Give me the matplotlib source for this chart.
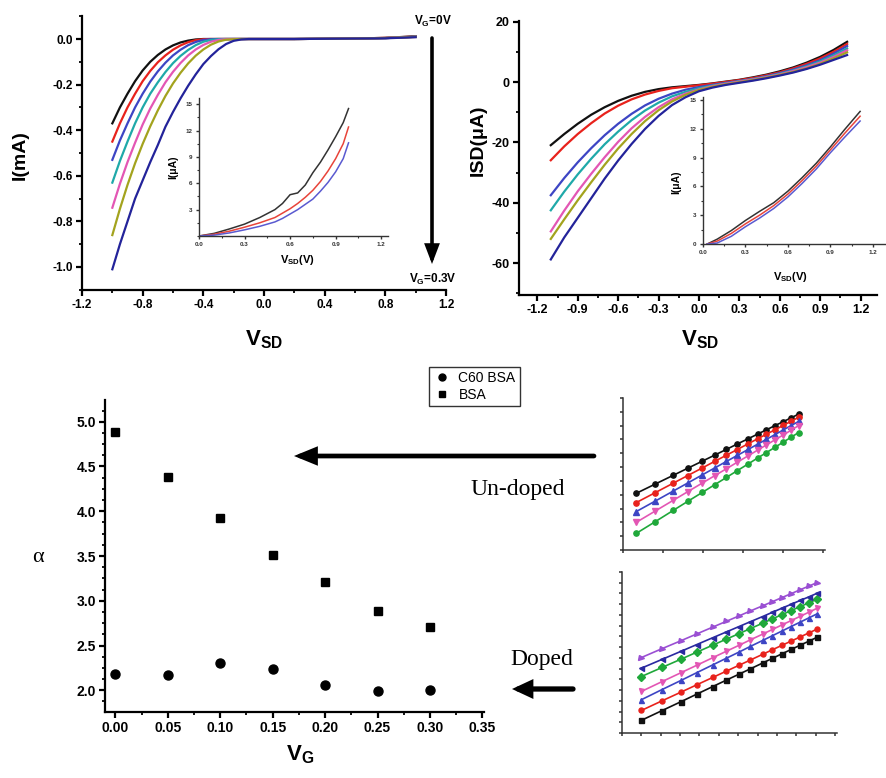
import matplotlib
matplotlib.use("Agg")
import matplotlib.pyplot as plt
from matplotlib.ticker import MultipleLocator, NullFormatter, FormatStrFormatter
from matplotlib.patches import FancyArrowPatch
from matplotlib.lines import Line2D

plt.rcParams["font.family"] = ["Liberation Sans", "DejaVu Sans"]
plt.rcParams["font.weight"] = "bold"
plt.rcParams["axes.unicode_minus"] = False
plt.rcParams["mathtext.fontset"] = "custom"
plt.rcParams["mathtext.bf"] = "Liberation Sans:bold"
plt.rcParams["mathtext.rm"] = "Liberation Sans:bold"
plt.rcParams["mathtext.default"] = "bf"

# ---- panel A: I-V, BSA (mA) ----
A_VSD = [-1.0, -0.95, -0.9, -0.85, -0.8, -0.75, -0.7, -0.65, -0.6, -0.55, -0.5,
         -0.45, -0.4, -0.35, -0.3, -0.25, -0.2, -0.15, -0.1, -0.05, 0.0,
         0.2, 0.4, 0.6, 0.8, 1.0]
A_black = [-0.37, -0.30, -0.24, -0.185, -0.138, -0.10, -0.07, -0.046, -0.028, -0.015, -0.007,
           -0.002, 0, 0, 0, 0, 0, 0, 0, 0, 0, 0.0, 0.001, 0.002, 0.005, 0.012]
A_red = [-0.45, -0.37, -0.30, -0.24, -0.185, -0.14, -0.102, -0.072, -0.047, -0.028, -0.014,
         -0.005, -0.001, 0, 0, 0, 0, 0, 0, 0, 0, 0.0, 0.001, 0.002, 0.005, 0.011]
A_blue = [-0.53, -0.445, -0.37, -0.30, -0.24, -0.187, -0.142, -0.104, -0.072, -0.047, -0.027,
          -0.013, -0.004, -0.001, 0, 0, 0, 0, 0, 0, 0, 0.0, 0.001, 0.002, 0.004, 0.010]
A_teal = [-0.63, -0.535, -0.45, -0.37, -0.30, -0.24, -0.19, -0.145, -0.106, -0.074, -0.048,
          -0.027, -0.012, -0.004, -0.001, 0, 0, 0, 0, 0, 0, 0.0, 0.001, 0.002, 0.004, 0.010]
A_magenta = [-0.74, -0.635, -0.54, -0.455, -0.375, -0.305, -0.245, -0.19, -0.144, -0.105, -0.072,
             -0.046, -0.026, -0.012, -0.004, -0.001, 0, 0, 0, 0, 0, 0.0, 0.001, 0.002, 0.004, 0.009]
A_olive = [-0.86, -0.745, -0.64, -0.545, -0.46, -0.383, -0.313, -0.25, -0.195, -0.148, -0.107,
           -0.073, -0.046, -0.025, -0.011, -0.003, -0.001, 0, 0, 0, 0, 0.0, 0.001, 0.002, 0.004, 0.009]
A_navy = [-1.01, -0.90, -0.80, -0.70, -0.62, -0.54, -0.465, -0.385, -0.32, -0.26, -0.205,
          -0.155, -0.11, -0.075, -0.045, -0.022, -0.008, -0.002, 0, 0, 0, 0.0, 0.001, 0.002, 0.003, 0.008]

# inset of panel A (uA)
IA_VSD = [0.0, 0.1, 0.2, 0.3, 0.4, 0.5, 0.55, 0.6, 0.65, 0.7, 0.75, 0.8, 0.85, 0.9, 0.95, 0.985]
IA_black = [0, 0.3, 0.8, 1.35, 2.1, 3.0, 3.7, 4.7, 4.9, 5.8, 7.2, 8.4, 9.8, 11.3, 12.9, 14.5]
IA_red = [0, 0.2, 0.55, 1.0, 1.5, 2.1, 2.6, 3.1, 3.7, 4.4, 5.2, 6.2, 7.4, 8.8, 10.5, 12.4]
IA_blue = [0, 0.1, 0.35, 0.7, 1.1, 1.6, 2.0, 2.5, 3.0, 3.6, 4.2, 5.1, 6.1, 7.3, 8.8, 10.6]

# ---- panel B: I-V, C60 BSA (uA) ----
B_VSD = [-1.1, -1.0, -0.9, -0.8, -0.7, -0.6, -0.5, -0.4, -0.3, -0.2, -0.1, 0.0,
         0.1, 0.2, 0.3, 0.4, 0.5, 0.6, 0.7, 0.8, 0.9, 1.0, 1.1]
B_black = [-20.9, -17.2, -13.8, -10.8, -8.3, -6.2, -4.5, -3.2, -2.3, -1.7, -1.3, -0.9,
           -0.4, 0.2, 0.8, 1.6, 2.5, 3.6, 4.9, 6.5, 8.4, 10.7, 13.4]
B_red = [-25.9, -21.3, -17.2, -13.6, -10.4, -7.8, -5.7, -4.1, -2.9, -2.0, -1.5, -1.0,
         -0.5, 0.1, 0.7, 1.4, 2.3, 3.3, 4.6, 6.1, 7.9, 10.1, 12.7]
B_blue = [-37.5, -31.8, -26.6, -21.9, -17.6, -13.8, -10.5, -7.7, -5.5, -3.8, -2.5, -1.6,
          -0.9, -0.2, 0.4, 1.1, 2.0, 3.0, 4.2, 5.6, 7.3, 9.5, 12.0]
B_teal = [-42.5, -36.3, -30.6, -25.4, -20.6, -16.4, -12.6, -9.4, -6.8, -4.7, -3.2, -2.0,
          -1.1, -0.4, 0.3, 1.0, 1.8, 2.8, 3.9, 5.3, 6.9, 8.9, 11.2]
B_magenta = [-49.5, -42.6, -36.2, -30.4, -24.9, -19.8, -15.3, -11.5, -8.3, -5.7, -3.8, -2.4,
             -1.3, -0.5, 0.2, 0.9, 1.7, 2.6, 3.7, 5.0, 6.5, 8.4, 10.6]
B_olive = [-52.0, -45.5, -39.2, -33.2, -27.4, -22.0, -17.2, -12.9, -9.3, -6.4, -4.2, -2.6,
           -1.5, -0.7, 0.0, 0.7, 1.5, 2.4, 3.4, 4.6, 6.1, 7.9, 9.9]
B_navy = [-58.8, -51.5, -45.0, -38.5, -32.0, -26.0, -20.5, -15.5, -11.2, -7.6, -5.0, -3.0,
          -1.8, -0.9, -0.2, 0.5, 1.3, 2.2, 3.2, 4.4, 5.8, 7.4, 9.0]

# inset of panel B (uA)
IB_VSD = [0.03, 0.1, 0.2, 0.3, 0.4, 0.5, 0.6, 0.7, 0.8, 0.9, 1.0, 1.11]
IB_black = [0, 0.5, 1.4, 2.45, 3.4, 4.3, 5.5, 6.9, 8.4, 10.1, 11.9, 13.8]
IB_red = [0, 0.3, 1.1, 2.1, 3.0, 4.0, 5.2, 6.6, 8.1, 9.8, 11.5, 13.3]
IB_blue = [0, 0.1, 0.8, 1.8, 2.7, 3.7, 4.9, 6.3, 7.8, 9.5, 11.1, 12.8]

# ---- panel C: alpha vs VG ----
VG = [0.0, 0.05, 0.10, 0.15, 0.20, 0.25, 0.30]
alpha_c60 = [2.18, 2.17, 2.30, 2.24, 2.06, 1.99, 2.00]
alpha_bsa = [4.89, 4.38, 3.92, 3.51, 3.21, 2.89, 2.71]

# ---- small log-log panels (arbitrary units) ----
D1_X = [0.33, 0.81, 1.25, 1.61, 1.98, 2.29, 2.58, 2.85, 3.13, 3.36, 3.58, 3.79, 4.0, 4.19, 4.38]
D1_black = [4.10, 4.78, 5.40, 5.91, 6.43, 6.87, 7.28, 7.67, 8.06, 8.39, 8.70, 9.00, 9.29, 9.56, 9.83]
D1_red = [3.43, 4.16, 4.83, 5.38, 5.94, 6.42, 6.86, 7.27, 7.70, 8.05, 8.38, 8.70, 9.02, 9.31, 9.60]
D1_blue = [2.78, 3.55, 4.26, 4.84, 5.44, 5.94, 6.41, 6.84, 7.29, 7.66, 8.01, 8.35, 8.69, 9.00, 9.30]
D1_magenta = [2.00, 2.83, 3.59, 4.21, 4.85, 5.38, 5.88, 6.35, 6.83, 7.23, 7.61, 7.97, 8.33, 8.66, 9.00]
D1_green = [1.20, 2.06, 2.86, 3.51, 4.17, 4.73, 5.25, 5.74, 6.24, 6.66, 7.05, 7.43, 7.81, 8.15, 8.50]

D2_X = [1.0, 2.07, 3.06, 3.86, 4.69, 5.38, 6.03, 6.63, 7.26, 7.77, 8.26, 8.73, 9.20, 9.63, 10.05]
D2_black = [1.18, 2.09, 2.93, 3.62, 4.33, 4.92, 5.47, 5.98, 6.52, 6.96, 7.38, 7.78, 8.18, 8.54, 8.90]
D2_red = [2.10, 3.00, 3.82, 4.49, 5.18, 5.76, 6.30, 6.80, 7.33, 7.76, 8.17, 8.56, 8.95, 9.31, 9.66]
D2_blue = [3.10, 4.05, 4.91, 5.62, 6.35, 6.96, 7.53, 8.07, 8.62, 9.07, 9.50, 9.92, 10.33, 10.71, 11.08]
D2_magenta = [3.87, 4.79, 5.63, 6.31, 7.02, 7.61, 8.16, 8.68, 9.21, 9.65, 10.07, 10.47, 10.87, 11.24, 11.60]
D2_green = [5.26, 6.11, 6.89, 7.53, 8.19, 8.74, 9.25, 9.73, 10.23, 10.64, 11.03, 11.40, 11.78, 12.11, 12.45]
D2_navy = [6.04, 6.86, 7.62, 8.24, 8.88, 9.41, 9.91, 10.37, 10.85, 11.25, 11.63, 11.99, 12.35, 12.67, 13.00]
D2_purple = [7.03, 7.86, 8.61, 9.23, 9.87, 10.40, 10.90, 11.37, 11.85, 12.24, 12.62, 12.98, 13.35, 13.67, 14.00]

iv_colors = ["#111111", "#e8221c", "#3d45c4", "#1fa9a9", "#e356b4", "#a3a31e", "#23239a"]

W, H = 887, 778
fig = plt.figure(figsize=(W / 100, H / 100), dpi=100)


def box(x0, y0, x1, y1):
    # axes from pixel box (top-left origin)
    return fig.add_axes([x0 / W, 1 - y1 / H, (x1 - x0) / W, (y1 - y0) / H])


def ftext(x, y, s, **kw):
    kw.setdefault("ha", "center")
    kw.setdefault("va", "center")
    return fig.text(x / W, 1 - y / H, s, **kw)


def arrow(x0, y0, x1, y1, lw, head):
    fig.add_artist(FancyArrowPatch((x0 / W, 1 - y0 / H), (x1 / W, 1 - y1 / H),
                                   transform=fig.transFigure, arrowstyle=head,
                                   mutation_scale=10, lw=lw, color="black",
                                   shrinkA=0, shrinkB=0, joinstyle="miter"))


def frame(ax, size, lw=1.6, major=4.5, minor=2.5, color="black"):
    ax.spines["top"].set_visible(False)
    ax.spines["right"].set_visible(False)
    for s in ["left", "bottom"]:
        ax.spines[s].set_linewidth(lw)
        ax.spines[s].set_color(color)
    ax.tick_params(which="major", direction="out", length=major, width=lw,
                   labelsize=size, colors=color, pad=2)
    ax.tick_params(which="minor", direction="out", length=minor, width=lw * 0.8, colors=color)
    ax.patch.set_alpha(0)


# panel A
axA = box(82, 16.2, 446, 289.8)
for ys, c in zip([A_black, A_red, A_blue, A_teal, A_magenta, A_olive, A_navy], iv_colors):
    axA.plot(A_VSD, ys, color=c, lw=1.6)
axA.set_xlim(-1.2, 1.2)
axA.set_ylim(-1.1, 0.1)
axA.xaxis.set_major_locator(MultipleLocator(0.4))
axA.xaxis.set_minor_locator(MultipleLocator(0.2))
axA.yaxis.set_major_locator(MultipleLocator(0.2))
axA.yaxis.set_minor_locator(MultipleLocator(0.1))
frame(axA, 8.5)
ftext(20, 155, "I(mA)", rotation=90, fontsize=14)
ftext(264, 340, r"$V_{SD}$", fontsize=16)
ftext(433, 21, r"$V_G$=0V", fontsize=8.5)
ftext(433, 279, r"$V_G$=0.3V", fontsize=8.5)
arrow(432, 38, 432, 264, 2.6, "-|>,head_length=1.0,head_width=0.38")

axIA = box(199, 98, 388, 236)
for ys, c in zip([IA_black, IA_red, IA_blue], ["#333333", "#e8443a", "#5a5ad0"]):
    axIA.plot(IA_VSD, ys, color=c, lw=1.1)
axIA.set_xlim(0, 1.245)
axIA.set_ylim(0, 15.7)
axIA.xaxis.set_major_locator(MultipleLocator(0.3))
axIA.xaxis.set_minor_locator(MultipleLocator(0.15))
axIA.yaxis.set_major_locator(MultipleLocator(3))
axIA.yaxis.set_minor_locator(MultipleLocator(1.5))
axIA.set_yticks([3, 6, 9, 12, 15])
frame(axIA, 4.5, lw=1.0, major=2.5, minor=1.5, color="#333333")
ftext(173, 167, "I(μA)", rotation=90, fontsize=7.5)
ftext(297, 260, r"$V_{SD}$(V)", fontsize=8)

# panel B
axB = box(519, 21, 877, 295)
for ys, c in zip([B_black, B_red, B_blue, B_teal, B_magenta, B_olive, B_navy], iv_colors):
    axB.plot(B_VSD, ys, color=c, lw=1.6)
axB.set_xlim(-1.336, 1.322)
axB.set_ylim(-70.6, 20.3)
axB.xaxis.set_major_locator(MultipleLocator(0.3))
axB.xaxis.set_minor_locator(MultipleLocator(0.15))
axB.yaxis.set_major_locator(MultipleLocator(20))
axB.yaxis.set_minor_locator(MultipleLocator(10))
frame(axB, 9)
ftext(478, 140, "ISD(μA)", rotation=90, fontsize=14)
ftext(700, 340, r"$V_{SD}$", fontsize=16)

axIB = box(703, 97, 887, 244)
for ys, c in zip([IB_black, IB_red, IB_blue], ["#333333", "#e8443a", "#5a5ad0"]):
    axIB.plot(IB_VSD, ys, color=c, lw=1.1)
axIB.set_xlim(0, 1.30)
axIB.set_ylim(0, 15.3)
axIB.xaxis.set_major_locator(MultipleLocator(0.3))
axIB.xaxis.set_minor_locator(MultipleLocator(0.15))
axIB.yaxis.set_major_locator(MultipleLocator(3))
axIB.yaxis.set_minor_locator(MultipleLocator(1.5))
frame(axIB, 4.5, lw=1.0, major=2.5, minor=1.5, color="#333333")
ftext(676, 182, "I(μA)", rotation=90, fontsize=7.5)
ftext(790, 277, r"$V_{SD}$(V)", fontsize=8)

# panel C
axC = box(105, 400, 484, 712)
axC.plot(VG, alpha_c60, "o", color="black", ms=6.5, label="C60 BSA")
axC.plot(VG, alpha_bsa, "s", color="black", ms=5.5, label="BSA")
axC.set_xlim(-0.01, 0.3516)
axC.set_ylim(1.757, 5.243)
axC.xaxis.set_major_locator(MultipleLocator(0.05))
axC.xaxis.set_minor_locator(MultipleLocator(0.025))
axC.yaxis.set_major_locator(MultipleLocator(0.5))
axC.yaxis.set_minor_locator(MultipleLocator(0.125))
axC.xaxis.set_major_formatter(FormatStrFormatter("%.2f"))
axC.yaxis.set_major_formatter(FormatStrFormatter("%.1f"))
frame(axC, 10)
ftext(38, 558, "α", fontsize=16, family="Liberation Serif", fontweight="normal")
ftext(300, 755, r"$V_G$", fontsize=16)

handles = [Line2D([], [], ls="none", marker="o", color="black", ms=5),
           Line2D([], [], ls="none", marker="s", color="black", ms=4.5)]
leg = fig.legend(handles, ["C60 BSA", "BSA"], loc="center",
                 bbox_to_anchor=(474.5 / W, 1 - 386.5 / H),
                 prop={"family": "Liberation Sans", "weight": "normal", "size": 10},
                 fancybox=False, edgecolor="#333333", framealpha=1,
                 handlelength=1.2, handletextpad=0.6, borderpad=0.3, labelspacing=0.2)
leg.get_frame().set_linewidth(1.0)

arrow(594, 456, 294, 456, 3.4, "-|>,head_length=1.1,head_width=0.45")
ftext(518, 489, "Un-doped", fontsize=17, family="Liberation Serif", fontweight="normal")
arrow(573, 689, 512, 689, 3.8, "-|>,head_length=0.9,head_width=0.42")
ftext(542, 660, "Doped", fontsize=17, family="Liberation Serif", fontweight="normal")

# small log-log panels
axD1 = box(623, 398, 825, 550)
for ys, c, m in zip([D1_black, D1_red, D1_blue, D1_magenta, D1_green],
                    ["#111111", "#e8221c", "#3d45c4", "#e356b4", "#1fa83a"],
                    ["o", "o", "^", "v", "o"]):
    axD1.plot(D1_X, ys, color=c, marker=m, ms=3.8, lw=1.2)
axD1.set_xlim(0, 5.04)
axD1.set_ylim(0, 11)
axD1.xaxis.set_major_locator(MultipleLocator(1))
axD1.yaxis.set_major_locator(MultipleLocator(1))
frame(axD1, 4, lw=1.1, major=2.5, minor=1.5, color="#333333")
axD1.xaxis.set_major_formatter(NullFormatter())
axD1.yaxis.set_major_formatter(NullFormatter())

axD2 = box(622, 572, 837, 733)
for ys, c, m in zip([D2_black, D2_red, D2_blue, D2_magenta, D2_green, D2_navy, D2_purple],
                    ["#111111", "#e8221c", "#3d45c4", "#e356b4", "#1fa83a", "#2a2aa0", "#9a4fd3"],
                    ["s", "o", "^", "v", "D", "<", ">"]):
    axD2.plot(D2_X, ys, color=c, marker=m, ms=3.6, lw=1.2)
axD2.set_xlim(0, 11.1)
axD2.set_ylim(0, 15)
axD2.xaxis.set_major_locator(MultipleLocator(1))
axD2.yaxis.set_major_locator(MultipleLocator(1))
frame(axD2, 4, lw=1.1, major=2.5, minor=1.5, color="#333333")
axD2.xaxis.set_major_formatter(NullFormatter())
axD2.yaxis.set_major_formatter(NullFormatter())

fig.savefig("out.png", dpi=100)
